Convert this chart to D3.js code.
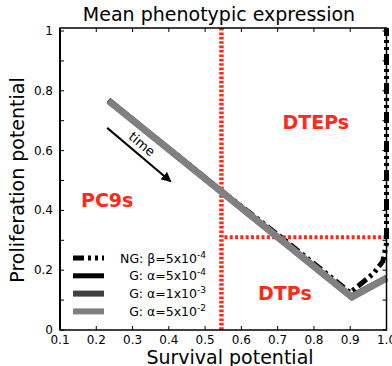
<!DOCTYPE html>
<html>
<head>
<meta charset="utf-8">
<script src="https://cdn.jsdelivr.net/npm/d3@7"></script>
<style>
  body { margin: 0; background: #fff; }
  text { font-family: "DejaVu Sans", sans-serif; }
</style>
</head>
<body>
<svg id="chart"></svg>
<script>
// mean phenotype trajectories (survival, proliferation)
const ngSurvival = [0.234, 0.55, 0.72, 0.90, 0.965, 0.99, 1.0, 1.0];
const ngProlif   = [0.769, 0.461, 0.300, 0.125, 0.19, 0.23, 0.29, 1.01];
const g1Survival = [0.234, 0.902, 1.0];   // alpha = 5e-4
const g1Prolif   = [0.768, 0.113, 0.176];
const g2Survival = [0.234, 0.903, 1.0];   // alpha = 1e-3
const g2Prolif   = [0.767, 0.111, 0.174];
const g3Survival = [0.234, 0.905, 1.0];   // alpha = 5e-2
const g3Prolif   = [0.767, 0.110, 0.173];

const survivalThreshold = 0.545;
const prolifThreshold = 0.31;

const xTickLabels = ["0.1", "0.2", "0.3", "0.4", "0.5", "0.6", "0.7", "0.8", "0.9", "1.0"];
const yTickLabels = ["0", "0.2", "0.4", "0.6", "0.8", "1"];

const legendNames = ["NG: \u03b2=5x10", "G: \u03b1=5x10", "G: \u03b1=1x10", "G: \u03b1=5x10"];
const legendExps = ["-4", "-4", "-3", "-2"];

const width = 392, height = 366;
const svg = d3.select("#chart").attr("width", width).attr("height", height);

const x = d3.scaleLinear().domain([0.1, 1.0]).range([60, 386.5]);
const y = d3.scaleLinear().domain([0, 1.01]).range([330, 28]);

const pLeft = x(0.1), pRight = x(1.0), pTop = y(1.01), pBottom = y(0);

// minor/major ticks, all pointing inward
const tickVals = d3.range(0, 11).map(i => i / 10);
const ticks = svg.append("g").attr("stroke", "#000").attr("stroke-width", 1);
tickVals.filter(v => v >= 0.1).forEach(v => {
  ticks.append("line").attr("x1", x(v)).attr("x2", x(v)).attr("y1", pBottom).attr("y2", pBottom - 4);
  ticks.append("line").attr("x1", x(v)).attr("x2", x(v)).attr("y1", pTop).attr("y2", pTop + 4);
});
tickVals.forEach(v => {
  ticks.append("line").attr("x1", pLeft).attr("x2", pLeft + 4).attr("y1", y(v)).attr("y2", y(v));
  ticks.append("line").attr("x1", pRight).attr("x2", pRight - 4).attr("y1", y(v)).attr("y2", y(v));
});

// tick labels
svg.append("g").selectAll("text")
  .data(xTickLabels)
  .enter().append("text")
  .attr("x", d => x(+d))
  .attr("y", 344)
  .attr("text-anchor", "middle")
  .style("font-size", "12px")
  .text(d => d);

svg.append("g").selectAll("text")
  .data(yTickLabels)
  .enter().append("text")
  .attr("x", 53)
  .attr("y", d => y(+d) + 4)
  .attr("text-anchor", "end")
  .style("font-size", "12px")
  .text(d => d);

// red threshold lines
svg.append("line")
  .attr("x1", x(survivalThreshold)).attr("x2", x(survivalThreshold))
  .attr("y1", pTop).attr("y2", pBottom)
  .attr("stroke", "#ff2a1a").attr("stroke-width", 4.5)
  .attr("stroke-dasharray", "2.6,1.8");
svg.append("line")
  .attr("x1", x(survivalThreshold) + 3).attr("x2", pRight)
  .attr("y1", y(prolifThreshold)).attr("y2", y(prolifThreshold))
  .attr("stroke", "#ff2a1a").attr("stroke-width", 4)
  .attr("stroke-dasharray", "3,2.3");

// trajectories
const line = d3.line().x(d => x(d[0])).y(d => y(d[1]));
const zip = (a, b) => a.map((v, i) => [v, b[i]]);

svg.append("path").datum(zip(ngSurvival, ngProlif))
  .attr("d", line).attr("fill", "none")
  .attr("stroke", "#000").attr("stroke-width", 5)
  .attr("stroke-dasharray", "11,4,3,4,3,4");
svg.append("path").datum(zip(g1Survival, g1Prolif))
  .attr("d", line).attr("fill", "none")
  .attr("stroke", "#000").attr("stroke-width", 5);
svg.append("path").datum(zip(g2Survival, g2Prolif))
  .attr("d", line).attr("fill", "none")
  .attr("stroke", "#404040").attr("stroke-width", 6);
svg.append("path").datum(zip(g3Survival, g3Prolif))
  .attr("d", line).attr("fill", "none")
  .attr("stroke", "#808080").attr("stroke-width", 7);

// frame
svg.append("rect")
  .attr("x", pLeft).attr("y", pTop)
  .attr("width", pRight - pLeft).attr("height", pBottom - pTop)
  .attr("fill", "none").attr("stroke", "#000").attr("stroke-width", 1.5);
svg.append("line")
  .attr("x1", pLeft).attr("x2", pLeft).attr("y1", pTop).attr("y2", pBottom)
  .attr("stroke", "#000").attr("stroke-width", 2);

// region labels
const regions = [
  { name: "PC9s", sx: 0.23, py: 0.41 },
  { name: "DTEPs", sx: 0.805, py: 0.672 },
  { name: "DTPs", sx: 0.72, py: 0.10 }
];
svg.append("g").selectAll("text")
  .data(regions)
  .enter().append("text")
  .attr("x", d => x(d.sx))
  .attr("y", d => y(d.py))
  .attr("text-anchor", "middle")
  .style("font-size", "19px")
  .style("font-weight", "bold")
  .style("fill", "#ff2a1a")
  .text(d => d.name);

// time arrow
svg.append("defs").append("marker")
  .attr("id", "head")
  .attr("viewBox", "0 0 10 10")
  .attr("refX", 9).attr("refY", 5)
  .attr("markerWidth", 5).attr("markerHeight", 5)
  .attr("markerUnits", "strokeWidth")
  .attr("orient", "auto")
  .append("path").attr("d", "M0,0 L10,5 L0,10 Z").attr("fill", "#000");

const a0 = [0.23, 0.676], a1 = [0.405, 0.497];
svg.append("line")
  .attr("x1", x(a0[0])).attr("y1", y(a0[1]))
  .attr("x2", x(a1[0])).attr("y2", y(a1[1]))
  .attr("stroke", "#000").attr("stroke-width", 2)
  .attr("marker-end", "url(#head)");
const ang = Math.atan2(y(a1[1]) - y(a0[1]), x(a1[0]) - x(a0[0])) * 180 / Math.PI;
svg.append("text")
  .attr("transform", `translate(${x(0.326)},${y(0.622)}) rotate(${ang})`)
  .attr("text-anchor", "middle")
  .attr("dy", "0.35em")
  .style("font-size", "13px")
  .text("time");

// legend
const legendColors = ["#000", "#000", "#404040", "#808080"];
const legendWidths = [5, 5, 6, 6];
const legend = svg.append("g");
legendNames.forEach((name, i) => {
  const ly = 258 + i * 17.8;
  legend.append("line")
    .attr("x1", 73).attr("x2", 104).attr("y1", ly).attr("y2", ly)
    .attr("stroke", legendColors[i]).attr("stroke-width", legendWidths[i])
    .attr("stroke-dasharray", i === 0 ? "11,4,3,4,3,4" : null);
  const t = legend.append("text")
    .attr("x", 206).attr("y", ly + 4.5)
    .attr("text-anchor", "end")
    .style("font-size", "12.5px");
  t.append("tspan").text(name);
  t.append("tspan").attr("dy", -5).style("font-size", "9px").text(legendExps[i]);
});

// titles
svg.append("text")
  .attr("x", 219).attr("y", 21)
  .attr("text-anchor", "middle")
  .style("font-size", "19px")
  .text("Mean phenotypic expression");
svg.append("text")
  .attr("x", 230).attr("y", 364)
  .attr("text-anchor", "middle")
  .style("font-size", "19px")
  .text("Survival potential");
svg.append("text")
  .attr("transform", "translate(24,180) rotate(-90)")
  .attr("text-anchor", "middle")
  .style("font-size", "19px")
  .text("Proliferation potential");
</script>
</body>
</html>
